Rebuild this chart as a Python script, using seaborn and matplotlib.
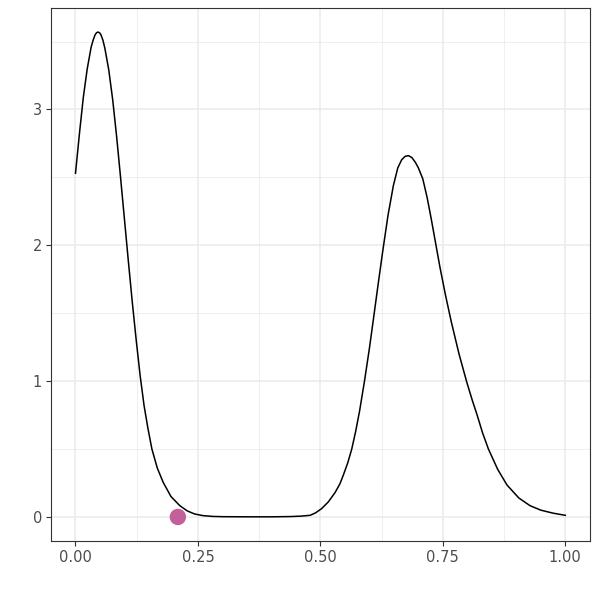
import numpy as np
import pandas as pd
import matplotlib
matplotlib.use('Agg')
import matplotlib.pyplot as plt
from matplotlib.ticker import AutoMinorLocator
import seaborn as sns

# curve values
curve_x = [0.000, 0.008, 0.016, 0.024, 0.032, 0.036, 0.040, 0.043, 0.046, 0.049,
           0.052, 0.056, 0.060, 0.068,
           0.076, 0.084, 0.092, 0.100, 0.108, 0.116, 0.124, 0.132, 0.140, 0.148,
           0.156, 0.167, 0.179, 0.195, 0.213, 0.228, 0.243, 0.260, 0.280, 0.300,
           0.350, 0.400, 0.440, 0.460, 0.479, 0.490, 0.502, 0.516, 0.530, 0.540,
           0.547, 0.556, 0.564, 0.572, 0.580, 0.590, 0.600, 0.608, 0.617, 0.627,
           0.638, 0.649, 0.658, 0.666, 0.673, 0.680, 0.687, 0.694, 0.700, 0.709,
           0.718, 0.726, 0.734, 0.744, 0.755, 0.767, 0.783, 0.799, 0.810, 0.820,
           0.831, 0.843, 0.862, 0.881, 0.905, 0.928, 0.950, 0.975, 1.000]
curve_y = [2.53, 2.82, 3.09, 3.30, 3.46, 3.51, 3.55, 3.565, 3.57, 3.565,
           3.55, 3.51, 3.45, 3.29,
           3.07, 2.80, 2.50, 2.19, 1.88, 1.58, 1.30, 1.04, 0.82, 0.65,
           0.50, 0.36, 0.255, 0.15, 0.083, 0.045, 0.022, 0.010, 0.004, 0.002,
           0.001, 0.001, 0.003, 0.006, 0.012, 0.03, 0.06, 0.11, 0.18, 0.245,
           0.31, 0.40, 0.50, 0.63, 0.78, 1.00, 1.24, 1.45, 1.69, 1.95,
           2.22, 2.44, 2.57, 2.63, 2.655, 2.66, 2.645, 2.61, 2.57, 2.49,
           2.35, 2.20, 2.04, 1.84, 1.64, 1.44, 1.20, 0.99, 0.86, 0.75,
           0.62, 0.50, 0.35, 0.235, 0.14, 0.083, 0.050, 0.028, 0.012]

point_x = [0.209]
point_y = [0.0]

x_ticks = [0.00, 0.25, 0.50, 0.75, 1.00]
x_labels = ['0.00', '0.25', '0.50', '0.75', '1.00']
y_ticks = [0, 1, 2, 3]

df = pd.DataFrame({'x': curve_x, 'y': curve_y})
pt = pd.DataFrame({'x': point_x, 'y': point_y})

fig = plt.figure(figsize=(6, 6), dpi=100)
ax = fig.add_axes([0.085, 0.098, 0.898, 0.889])
ax.set_facecolor('white')

sns.lineplot(data=df, x='x', y='y', color='black', linewidth=1.1,
             sort=False, estimator=None, ax=ax, zorder=3)
sns.scatterplot(data=pt, x='x', y='y', color='#C2609C', s=140,
                edgecolor='none', ax=ax, zorder=4)

ax.set_xlim(-0.05, 1.05)
ax.set_ylim(-0.1785, 3.7485)
ax.set_xticks(x_ticks)
ax.set_xticklabels(x_labels)
ax.set_yticks(y_ticks)
ax.xaxis.set_minor_locator(AutoMinorLocator(2))
ax.yaxis.set_minor_locator(AutoMinorLocator(2))

ax.grid(which='major', color='#EBEBEB', linewidth=1.1)
ax.grid(which='minor', color='#EBEBEB', linewidth=0.55)
ax.set_axisbelow(True)

ax.tick_params(which='major', length=3.5, width=0.8, color='#333333',
               labelsize=10.5, labelcolor='#4D4D4D', pad=3)
ax.tick_params(which='minor', length=0)
for s in ax.spines.values():
    s.set_color('#333333')
    s.set_linewidth(0.8)

ax.set_xlabel('')
ax.set_ylabel('')

plt.savefig('out.png', dpi=100, facecolor='white')
